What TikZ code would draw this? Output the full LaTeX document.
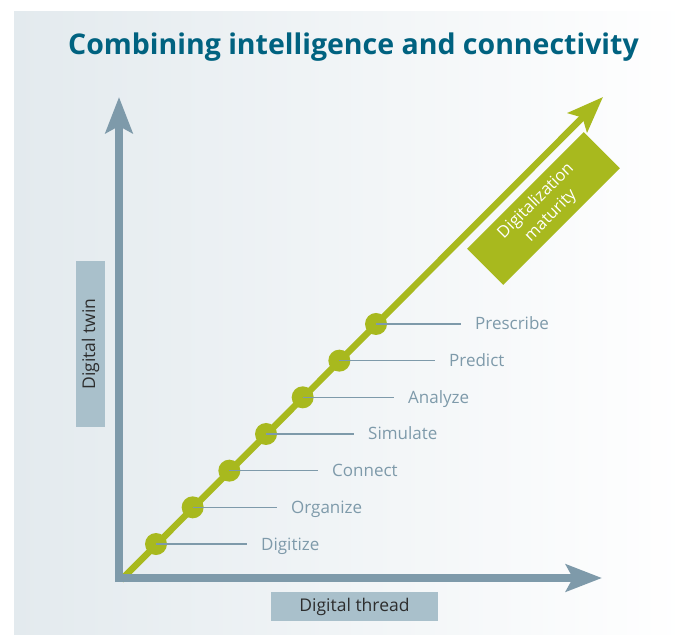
\documentclass[tikz,border=0pt]{standalone}
\usepackage{fontspec}
\setmainfont{Open Sans}
\usetikzlibrary{arrows.meta}
\definecolor{petrol}{RGB}{0,98,128}
\definecolor{axisGray}{RGB}{126,154,170}
\definecolor{boxGray}{RGB}{169,192,203}
\definecolor{limeGreen}{RGB}{168,185,30}
\definecolor{bgLeft}{RGB}{227,234,238}
\definecolor{textDark}{RGB}{45,45,45}

\begin{document}
\begin{tikzpicture}[x=1pt,y=-1pt,
    bigArrow/.style={-{Stealth[length=36pt,width=27pt,inset=7pt]}},
    axisLine/.style={bigArrow, line width=8pt, draw=axisGray},
    axisBox/.style={fill=boxGray, text=textDark, font=\fontsize{17.5}{20}\selectfont,
      minimum width=167pt, minimum height=29pt, inner sep=0pt},
    stageDot/.style={circle, fill=limeGreen, minimum size=22pt, inner sep=0pt},
    stageLbl/.style={anchor=west, text=axisGray, font=\fontsize{17}{19}\selectfont,
      text height=12pt, text depth=0pt, inner ysep=0pt, inner xsep=14pt},
    leader/.style={draw=axisGray, line width=1.3pt}]
  \useasboundingbox (0,0) rectangle (686,635);
  % background panel
  \shade[left color=bgLeft, right color=white] (14,11) rectangle (686,635);

  % title
  \node[text=petrol, font=\fontsize{28.5}{31}\selectfont\bfseries] (title) at (353.5,47)
    {Combining intelligence and connectivity};

  % maturity arrow (under the axes)
  \coordinate (gStart) at (121,580);
  \coordinate (gTip) at (603,97);
  \draw[bigArrow, line width=6.5pt, draw=limeGreen] (gStart) -- (gTip);

  % axes
  \coordinate (yBase) at (119,582);
  \coordinate (yTip) at (119,97);
  \coordinate (xBase) at (115,578);
  \coordinate (xTip) at (602,578);
  \draw[axisLine] (yBase) -- (yTip);
  \draw[axisLine] (xBase) -- (xTip);

  % axis labels
  \node[axisBox, rotate=90, minimum width=166pt] (twin) at (90.5,344) {Digital twin};
  \node[axisBox] (thread) at (354.5,606.5) {Digital thread};

  % maturity box
  \node[rotate=45, fill=limeGreen, text=white, align=center,
    font=\fontsize{16.5}{21}\selectfont, minimum width=165pt, minimum height=51pt,
    inner sep=0pt] (maturity) at (543.5,208.5) {Digitalization\\maturity};

  % stages
  \foreach \i/\lab/\lx in {0/Digitize/247, 1/Organize/277, 2/Connect/318,
      3/Simulate/354, 4/Analyze/394, 5/Predict/435, 6/Prescribe/461} {
    \node[stageDot] (d\i) at ({156+36.67*\i},{544-36.67*\i}) {};
    \node[stageLbl] (l\i) at (\lx,{544-36.67*\i}) {\lab};
    \draw[leader] (d\i.center) -- (l\i.west);
  }
\end{tikzpicture}
\end{document}
